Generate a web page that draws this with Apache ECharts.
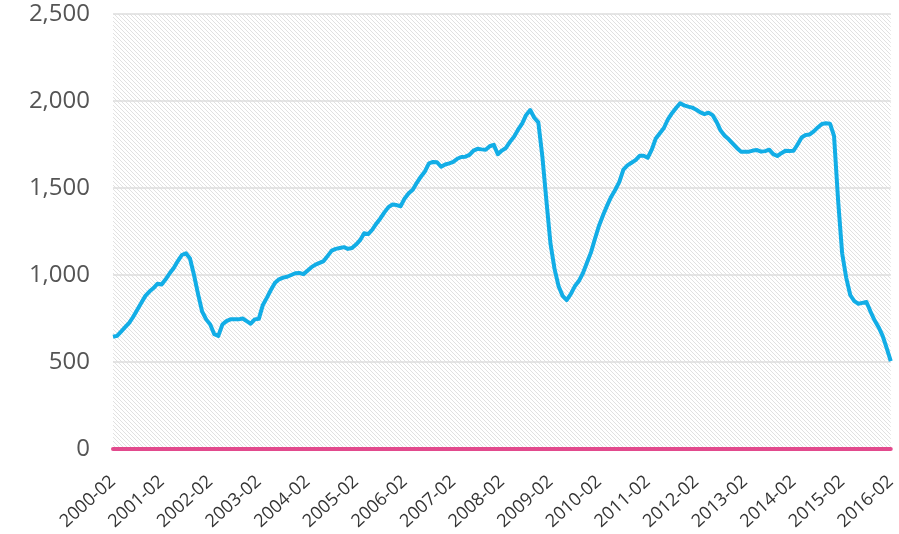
<!DOCTYPE html>
<html>
<head>
<meta charset="utf-8">
<script src="https://cdn.jsdelivr.net/npm/echarts@6/dist/echarts.min.js"></script>
<style>
  html, body { margin: 0; padding: 0; background: #fff; }
  #chart { width: 899px; height: 534px; }
</style>
</head>
<body>
<div id="chart"></div>
<script>
// monthly values, 2000-02 .. 2016-02
var values = [
  645, 650, 675, 700, 725, 760, 800, 840, 880, 905, 925, 950,
  945, 975, 1010, 1040, 1080, 1115, 1125, 1095, 1000, 890, 790, 745,
  715, 660, 650, 715, 735, 745, 745, 745, 750, 735, 720, 745,
  748, 828, 870, 915, 955, 975, 985, 990, 1000, 1010, 1012, 1005,
  1025, 1045, 1060, 1070, 1080, 1110, 1140, 1150, 1155, 1160, 1150, 1155,
  1175, 1200, 1240, 1235, 1260, 1295, 1325, 1360, 1390, 1405, 1402, 1395,
  1440, 1470, 1490, 1530, 1565, 1595, 1642, 1650, 1648, 1622, 1635, 1642,
  1650, 1668, 1678, 1680, 1690, 1715, 1725, 1722, 1720, 1740, 1748, 1694,
  1715, 1730, 1765, 1795, 1835, 1870, 1920, 1948, 1904, 1877, 1680, 1425,
  1180, 1035, 935, 880, 856, 890, 935, 965, 1010, 1070, 1130, 1210,
  1285, 1345, 1400, 1450, 1490, 1535, 1605, 1630, 1645, 1660, 1685, 1685,
  1674, 1720, 1785, 1815, 1845, 1895, 1930, 1960, 1987, 1975, 1968, 1962,
  1950, 1935, 1925, 1933, 1919, 1880, 1830, 1800, 1780, 1755, 1730, 1709,
  1709, 1709, 1715, 1718, 1709, 1712, 1720, 1695, 1684, 1700, 1714, 1712,
  1714, 1750, 1790, 1805, 1808, 1825, 1848, 1868, 1872, 1870, 1800, 1430,
  1125, 985, 885, 850, 835, 840, 845, 790, 740, 700, 650, 580,
  505
];
var startYear = 2000;
var yTicks = [0, 500, 1000, 1500, 2000, 2500];

// category labels: yyyy-mm, starting february 2000
var months = values.map(function (v, i) {
  var m = (1 + i) % 12 + 1;
  var y = startYear + Math.floor((1 + i) / 12);
  return y + '-' + (m < 10 ? '0' + m : m);
});

// light diagonal hatch for the plot background
function hatch() {
  var c = document.createElement('canvas');
  c.width = 4; c.height = 4;
  var ctx = c.getContext('2d');
  ctx.fillStyle = '#ffffff';
  ctx.fillRect(0, 0, 4, 4);
  ctx.strokeStyle = '#dedede';
  ctx.lineWidth = 0.9;
  ctx.beginPath();
  ctx.moveTo(-1, -1); ctx.lineTo(5, 5);
  ctx.moveTo(-1, 3); ctx.lineTo(1, 5);
  ctx.moveTo(3, -1); ctx.lineTo(5, 1);
  ctx.stroke();
  return c;
}

function commas(v) {
  return String(v).replace(/\B(?=(\d{3})+(?!\d))/g, ',');
}

var chart = echarts.init(document.getElementById('chart'), null, { renderer: 'canvas' });
chart.setOption({
  animation: false,
  backgroundColor: '#ffffff',
  grid: {
    left: 113, right: 7, top: 14, bottom: 85,
    show: true,
    borderWidth: 0,
    backgroundColor: { image: hatch(), repeat: 'repeat' }
  },
  xAxis: {
    type: 'category',
    data: months,
    boundaryGap: false,
    axisLine: { show: true, lineStyle: { color: '#e24a8d', width: 4 } },
    axisTick: { show: false },
    axisLabel: {
      interval: 11,
      rotate: 42,
      margin: 30,
      color: '#333',
      fontFamily: 'Open Sans',
      fontSize: 18
    },
    splitLine: { show: false }
  },
  yAxis: {
    type: 'value',
    min: yTicks[0],
    max: yTicks[yTicks.length - 1],
    interval: 500,
    axisLine: { show: false },
    axisTick: { show: false },
    axisLabel: {
      margin: 23,
      color: '#555',
      fontFamily: 'Open Sans',
      fontSize: 24,
      formatter: function (v) { return commas(v); }
    },
    splitLine: { show: true, lineStyle: { color: '#dddddd', width: 1.5 } }
  },
  series: [{
    type: 'line',
    data: values,
    showSymbol: false,
    smooth: false,
    lineStyle: { color: '#12ade6', width: 4, join: 'round' },
    z: 3
  }]
});
</script>
</body>
</html>
